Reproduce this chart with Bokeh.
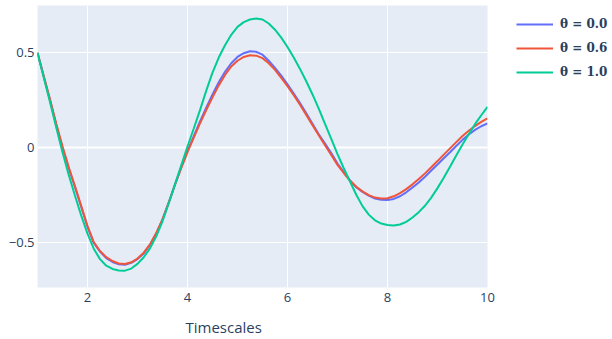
from bokeh.plotting import figure
from bokeh.models import (ColumnDataSource, Legend, LegendItem, FixedTicker, Span, Range1d, Title)
from bokeh.embed import file_html
from bokeh.resources import INLINE

x = [1.000, 1.125, 1.250, 1.375, 1.500, 1.625, 1.750, 1.875,
     2.000, 2.125, 2.250, 2.375, 2.500, 2.625, 2.750, 2.875,
     3.000, 3.125, 3.250, 3.375, 3.500, 3.625, 3.750, 3.875,
     4.000, 4.125, 4.250, 4.375, 4.500, 4.625, 4.750, 4.875,
     5.000, 5.125, 5.250, 5.375, 5.500, 5.625, 5.750, 5.875,
     6.000, 6.125, 6.250, 6.375, 6.500, 6.625, 6.750, 6.875,
     7.000, 7.125, 7.250, 7.375, 7.500, 7.625, 7.750, 7.875,
     8.000, 8.125, 8.250, 8.375, 8.500, 8.625, 8.750, 8.875,
     9.000, 9.125, 9.250, 9.375, 9.500, 9.625, 9.750, 9.875, 10.000]

theta_00 = [0.500, 0.375, 0.250, 0.120, 0.000, -0.110, -0.210, -0.315,
            -0.420, -0.505, -0.550, -0.585, -0.605, -0.617, -0.620, -0.610,
            -0.590, -0.560, -0.515, -0.455, -0.380, -0.290, -0.195, -0.105,
            -0.020, 0.060, 0.137, 0.210, 0.280, 0.345, 0.400, 0.445,
            0.478, 0.498, 0.508, 0.505, 0.490, 0.458, 0.420, 0.380,
            0.334, 0.285, 0.235, 0.180, 0.125, 0.070, 0.020, -0.030,
            -0.085, -0.130, -0.175, -0.210, -0.235, -0.255, -0.270, -0.277,
            -0.278, -0.272, -0.258, -0.237, -0.212, -0.185, -0.155, -0.122,
            -0.090, -0.057, -0.025, 0.008, 0.040, 0.068, 0.093, 0.112, 0.127]

theta_06 = [0.500, 0.378, 0.255, 0.125, 0.005, -0.105, -0.205, -0.310,
            -0.415, -0.500, -0.547, -0.580, -0.600, -0.613, -0.616, -0.607,
            -0.587, -0.556, -0.512, -0.452, -0.380, -0.292, -0.197, -0.108,
            -0.025, 0.052, 0.127, 0.198, 0.265, 0.328, 0.383, 0.428,
            0.458, 0.478, 0.487, 0.485, 0.472, 0.445, 0.410, 0.368,
            0.324, 0.276, 0.226, 0.172, 0.118, 0.064, 0.012, -0.040,
            -0.092, -0.135, -0.175, -0.208, -0.232, -0.252, -0.265, -0.270,
            -0.268, -0.258, -0.241, -0.220, -0.195, -0.167, -0.137, -0.105,
            -0.072, -0.038, -0.005, 0.028, 0.060, 0.088, 0.113, 0.135, 0.153]

theta_10 = [0.500, 0.370, 0.240, 0.105, -0.025, -0.145, -0.255, -0.360,
            -0.455, -0.535, -0.590, -0.625, -0.642, -0.650, -0.651, -0.640,
            -0.615, -0.580, -0.533, -0.470, -0.390, -0.295, -0.195, -0.095,
            0.005, 0.100, 0.197, 0.300, 0.395, 0.475, 0.540, 0.595,
            0.637, 0.662, 0.676, 0.681, 0.676, 0.655, 0.622, 0.580,
            0.531, 0.475, 0.415, 0.350, 0.280, 0.205, 0.125, 0.045,
            -0.035, -0.110, -0.180, -0.250, -0.310, -0.355, -0.385, -0.402,
            -0.410, -0.412, -0.407, -0.393, -0.370, -0.342, -0.308, -0.265,
            -0.215, -0.160, -0.102, -0.043, 0.015, 0.070, 0.123, 0.170, 0.214]

labels = ["θ = 0.0", "θ = 0.6", "θ = 1.0"]
colors = ["#636EFA", "#EF553B", "#00CC96"]
x_ticks = [2, 4, 6, 8, 10]
y_ticks = [-0.5, 0, 0.5]
x_title = "Timescales"

TEXT = "#2a3f5f"
FONT = "Open Sans"

p = figure(output_backend="svg", toolbar_location=None,
           x_range=Range1d(1, 10), y_range=Range1d(-0.74, 0.75),
           frame_width=450, frame_height=282,
           min_border_left=37, min_border_right=125, min_border_top=5, min_border_bottom=0)
p.background_fill_color = "#E5ECF6"
p.border_fill_color = "white"
p.outline_line_color = None

p.xgrid.ticker = FixedTicker(ticks=[2, 4, 6, 8])
p.ygrid.ticker = FixedTicker(ticks=y_ticks)
for g in (p.xgrid, p.ygrid):
    g.grid_line_color = "white"
    g.grid_line_width = 1
    g.grid_line_alpha = 1

zero = Span(location=0, dimension="width", line_color="white", line_width=2, level="underlay")
p.add_layout(zero)

for ax in (p.xaxis, p.yaxis):
    ax.axis_line_color = None
    ax.major_tick_line_color = None
    ax.minor_tick_line_color = None
    ax.major_tick_out = 0
    ax.major_tick_in = 0
    ax.major_label_text_color = TEXT
    ax.major_label_text_font = FONT
    ax.major_label_text_font_size = "13px"

p.xaxis.ticker = FixedTicker(ticks=x_ticks)
p.yaxis.ticker = FixedTicker(ticks=y_ticks)
p.yaxis.major_label_overrides = {-0.5: "\u22120.5", 0: "0", 0.5: "0.5"}
p.xaxis.major_label_standoff = 5
p.yaxis.major_label_standoff = 3

src = ColumnDataSource(dict(x=x, a=theta_00, b=theta_06, c=theta_10))
renderers = []
for col, color in zip(["a", "b", "c"], colors):
    r = p.line("x", col, source=src, line_color=color, line_width=2)
    renderers.append(r)

title = Title(text=x_title, align="left", offset=148, text_font=FONT,
              text_font_size="15px", text_font_style="normal", text_color=TEXT, standoff=20)
p.add_layout(title, "below")

legend = Legend(items=[LegendItem(label=l, renderers=[r]) for l, r in zip(labels, renderers)],
                location=(29, 205), orientation="vertical")
legend.background_fill_alpha = 0
legend.border_line_color = None
legend.padding = 0
legend.margin = 0
legend.spacing = 4
legend.label_height = 20
legend.glyph_height = 20
legend.glyph_width = 37
legend.label_standoff = 7
legend.label_text_font = "DejaVu Serif"
legend.label_text_font_style = "bold"
legend.label_text_font_size = "12px"
legend.label_text_color = TEXT
p.add_layout(legend, "right")

open("out.html", "w").write(file_html(p, INLINE))
